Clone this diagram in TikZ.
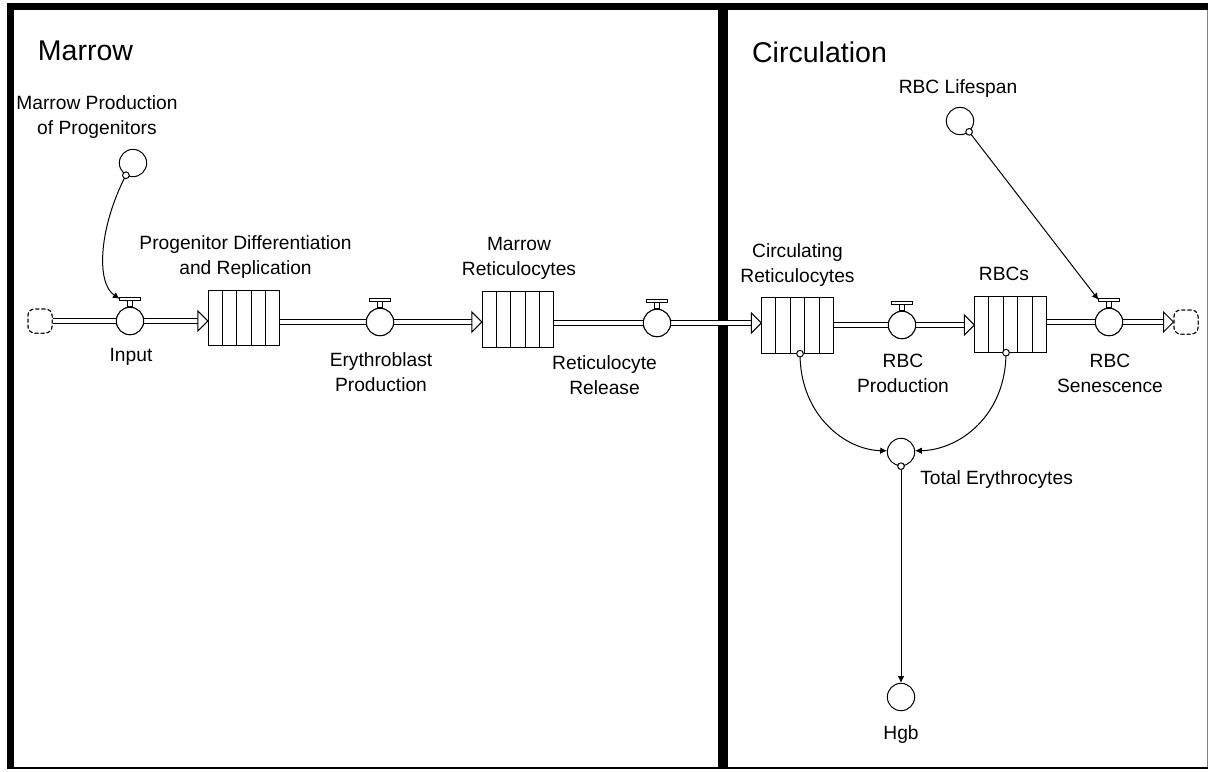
\documentclass[tikz,border=0pt]{standalone}
\usepackage{fontspec}
\setmainfont{Liberation Sans}
\usetikzlibrary{arrows.meta,calc}
\newcommand{\valvetop}[1]{%
  \draw[line width=0.75pt, fill=white] ($(#1.north)+(-2.5,-6.5)$) rectangle ($(#1.north)+(2.5,0)$);
  \draw[line width=0.75pt, fill=white] ($(#1.north)+(-10.5,-9.5)$) rectangle ($(#1.north)+(10.5,-6.5)$);
  \coordinate (#1-barw) at ($(#1.north)+(-10.5,-8)$);
}
\newcommand{\stocklines}[1]{%
  \foreach \i in {1,2,3,4}
    \draw[line width=0.75pt] ($(#1.south west)!\i/5!(#1.south east)$) -- ($(#1.north west)!\i/5!(#1.north east)$);
}
\newcommand{\pipeinto}[2]{%
  \draw[pipe] (#1.east) -- ($(#1.east -| #2.west)+(-10,0)$);
  \draw[line width=0.75pt, fill=white] ($(#1.east -| #2.west)+(-10,-10)$) -- (#1.east -| #2.west) -- ($(#1.east -| #2.west)+(-10,10)$) -- cycle;
}
\begin{document}
\begin{tikzpicture}[x=0.75pt,y=-0.75pt,
  lab/.style={font=\fontsize{14.4}{18.75}\selectfont, align=center, inner sep=0pt},
  ttl/.style={font=\fontsize{21.4}{26}\selectfont, inner sep=0pt},
  conv/.style={circle, draw, line width=0.75pt, minimum size=20.5pt, inner sep=0pt, fill=white},
  stockbox/.style={draw, line width=0.75pt, minimum width=53.5pt, minimum height=41.5pt, inner sep=0pt, fill=white},
  cloudbox/.style={draw, line width=0.75pt, dash pattern=on 3pt off 1.5pt, rounded corners=5pt, minimum size=18pt, inner sep=0pt, fill=white},
  pipe/.style={double, double distance=2.4pt, line width=0.75pt},
  link/.style={line width=0.75pt, -{Latex[length=5pt,width=5pt]}},
  orig/.style={circle, draw, fill=white, minimum size=5pt, inner sep=0pt, line width=0.75pt}
]
\useasboundingbox[fill=white] (0,0) rectangle (1209,771);

% frame
\draw[line width=1.2pt, gray] (1207.5,3) -- (1207.5,768);
\draw[line width=2pt] (7,768) -- (1208,768);
\draw[line width=5.25pt] (7,6.5) -- (1208,6.5);
\draw[line width=5.25pt] (10.5,3) -- (10.5,769);
\draw[line width=7.5pt] (723,3) -- (723,769);

% titles
\node[ttl] (tmarrow) at (85.5,51) {Marrow};
\node[ttl] (tcirc) at (819.5,52) {Circulation};

% flow elements
\node[cloudbox] (c1) at (40,321) {};
\node[conv] (v1) at (130,321) {};
\node[stockbox] (s1) at (244,318) {};
\node[conv] (v2) at (380,322) {};
\node[stockbox] (s2) at (518,319.5) {};
\node[conv] (v3) at (657,323) {};
\node[stockbox] (s3) at (797.5,325.5) {};
\node[conv] (v4) at (902,325) {};
\node[stockbox] (s4) at (1010.5,324.5) {};
\node[conv] (v5) at (1109,322) {};
\node[cloudbox] (c2) at (1186,322) {};

% pipes
\draw[pipe] (c1.east) -- (v1.west);
\pipeinto{v1}{s1}
\draw[pipe] (s1.east |- v2) -- (v2.west);
\pipeinto{v2}{s2}
\draw[pipe] (s2.east |- v3) -- (v3.west);
\pipeinto{v3}{s3}
\draw[pipe] (s3.east |- v4) -- (v4.west);
\pipeinto{v4}{s4}
\draw[pipe] (s4.east |- v5) -- (v5.west);
\pipeinto{v5}{c2}

% redraw elements on top
\node[cloudbox] at (c1) {};
\node[conv] at (v1) {};
\node[conv] at (v2) {};
\node[conv] at (v3) {};
\node[conv] at (v4) {};
\node[conv] at (v5) {};
\node[cloudbox] at (c2) {};
\stocklines{s1}
\stocklines{s2}
\stocklines{s3}
\stocklines{s4}
\valvetop{v1}
\valvetop{v2}
\valvetop{v3}
\valvetop{v4}
\valvetop{v5}

% converters
\node[conv] (mp) at (133,163) {};
\node[conv] (rl) at (960,121) {};
\node[conv] (te) at (901,452) {};
\node[conv] (hgb) at (901,697) {};

% information links
\coordinate (s3o) at ($(s3.south)+(2.5,0)$);
\coordinate (s4o) at ($(s4.south)+(-4.5,0)$);
\draw[link] (mp.240) .. controls (100,225) and (95,282) .. (v1-barw);
\draw[link] (rl.-50) -- (v5-barw);
\draw[link] (s3o) .. controls (800,415) and (845,450) .. (te.175);
\draw[link] (s4o) .. controls (1006,415) and (960,450) .. (te.5);
\draw[link] (te.south) -- (hgb.north);
\node[orig] at (mp.240) {};
\node[orig] at (rl.-50) {};
\node[orig] at (s3o) {};
\node[orig] at (s4o) {};
\node[orig] at (te.south) {};

% labels
\node[lab] (lmp) at (97,117.5) {Marrow Production\\of Progenitors};
\node[lab] (ls1) at (245.5,257.5) {Progenitor Differentiation\\and Replication};
\node[lab] (lv1) at (131,357) {Input};
\node[lab] (lv2) at (381,372.5) {Erythroblast\\Production};
\node[lab] (ls2) at (519,258.5) {Marrow\\Reticulocytes};
\node[lab] (lv3) at (604.5,375.5) {Reticulocyte\\Release};
\node[lab] (ls3) at (797.5,265.5) {Circulating\\Reticulocytes};
\node[lab] (lv4) at (903,373.5) {RBC\\Production};
\node[lab] (ls4) at (1004,274) {RBCs};
\node[lab] (lv5) at (1110,373.5) {RBC\\Senescence};
\node[lab, anchor=west] (lte) at (920,480) {Total Erythrocytes};
\node[lab] (lhgb) at (901,735) {Hgb};
\node[lab] (lrl) at (958,89) {RBC Lifespan};
\end{tikzpicture}
\end{document}
